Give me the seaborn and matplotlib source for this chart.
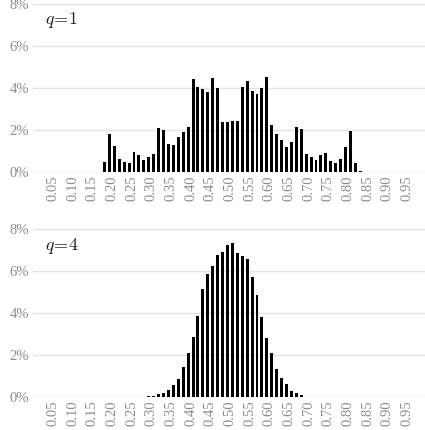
import numpy as np
import pandas as pd
import seaborn as sns
import matplotlib.pyplot as plt
from matplotlib.ticker import FuncFormatter

# 80 equal bins on [0, 1]
n_bins = 80

# q=1: share of runs per bin (%), bins 14..66
q1_first_bin = 14
q1_pct = [0.48, 1.78, 1.22, 0.60, 0.46, 0.43, 0.94, 0.79, 0.57, 0.70,
          0.86, 2.08, 2.00, 1.33, 1.29, 1.65, 1.90, 2.13, 4.41, 4.02,
          3.92, 3.79, 4.44, 4.00, 2.35, 2.38, 2.40, 2.43, 4.02, 4.30,
          3.83, 3.70, 4.00, 4.51, 2.21, 1.79, 1.52, 1.17, 1.43, 2.11,
          2.02, 0.84, 0.71, 0.57, 0.79, 0.87, 0.49, 0.43, 0.60, 1.19,
          1.92, 0.41, 0.05]

# q=4: share of runs per bin (%), bins 22..55
q4_first_bin = 22
q4_pct = [0.01, 0.02, 0.04, 0.13, 0.18, 0.32, 0.56, 0.83, 1.44, 2.10,
          2.87, 3.86, 5.15, 5.87, 6.25, 6.78, 6.92, 7.26, 7.37, 6.89,
          6.72, 6.60, 5.71, 4.85, 3.82, 2.79, 2.09, 1.33, 0.88, 0.59,
          0.27, 0.18, 0.08, 0.01]

panels = [("$q\\!=\\!1$", q1_first_bin, q1_pct),
          ("$q\\!=\\!4$", q4_first_bin, q4_pct)]

x_ticks = [round(0.05 + 0.05 * i, 2) for i in range(19)]
y_ticks = [0, 2, 4, 6, 8]

sns.set_style("white")
plt.rcParams['font.family'] = ['Liberation Serif', 'DejaVu Serif']
plt.rcParams['mathtext.fontset'] = 'cm'

fig = plt.figure(figsize=(4.25, 4.30), dpi=100)
positions = [[0.078, 0.6007, 0.926, 0.3907],
             [0.078, 0.0774, 0.926, 0.3893]]

for pos, (label, first_bin, pct) in zip(positions, panels):
    ax = fig.add_axes(pos)
    heights = np.zeros(n_bins)
    heights[first_bin:first_bin + len(pct)] = pct
    df = pd.DataFrame({"bin": np.arange(n_bins), "pct": heights})
    sns.barplot(data=df, x="bin", y="pct", width=0.6, color="black",
                saturation=1, errorbar=None, linewidth=0, ax=ax, zorder=3)
    # categorical slot i covers [i/80, (i+1)/80]
    ax.set_xlim(-0.5, n_bins - 0.5)
    ax.set_ylim(0, 8)
    ax.set_xticks([t * n_bins - 0.5 for t in x_ticks])
    ax.set_xticklabels([f"{t:.2f}" for t in x_ticks], rotation=90)
    ax.set_yticks(y_ticks)
    ax.yaxis.set_major_formatter(FuncFormatter(lambda v, p: f"{v:.0f}%"))
    ax.grid(axis="y", color="#e3e3e3", linewidth=1, zorder=0)
    ax.grid(axis="x", visible=False)
    ax.set_axisbelow(True)
    for s in ax.spines.values():
        s.set_visible(False)
    ax.tick_params(axis="both", length=0, labelsize=10.5, colors="#8c8c8c")
    ax.tick_params(axis="x", pad=2.5)
    ax.tick_params(axis="y", pad=3)
    ax.set_xlabel("")
    ax.set_ylabel("")
    ax.text(0.03, 0.90, label, transform=ax.transAxes, fontsize=13,
            color="#222222", va="center", ha="left")

fig.savefig("out.png", dpi=100)
